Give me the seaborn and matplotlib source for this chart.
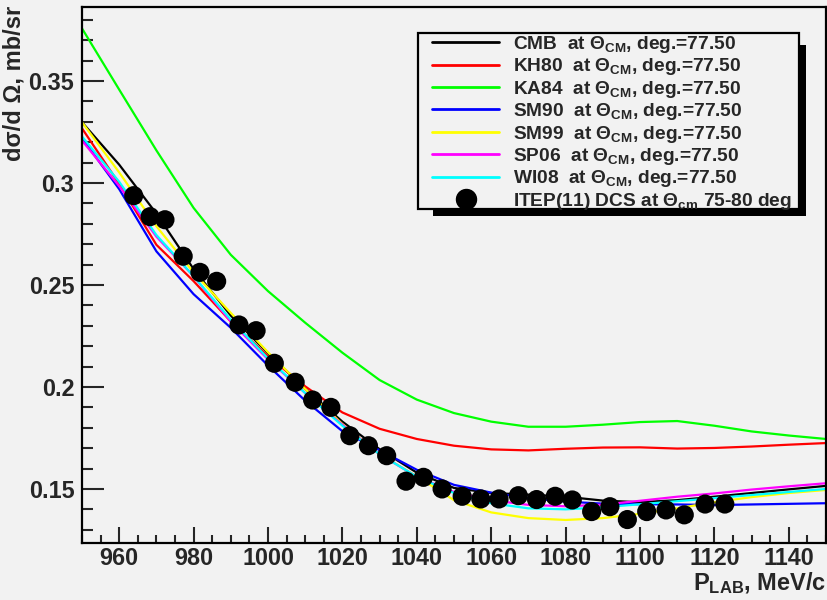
import numpy as np
import pandas as pd
import matplotlib
matplotlib.use("Agg")
import matplotlib.pyplot as plt
from matplotlib.lines import Line2D
from matplotlib.patches import Rectangle
from matplotlib.ticker import MultipleLocator, FuncFormatter
import seaborn as sns

# ---------------- data ----------------
p_grid = [950, 960, 970, 980, 990, 1000, 1010, 1020, 1030, 1040, 1050,
          1060, 1070, 1080, 1090, 1100, 1110, 1120, 1130, 1140, 1150]

cmb  = [0.3298, 0.3090, 0.2850, 0.2578, 0.2350, 0.2165, 0.1990, 0.1830, 0.1695, 0.1580, 0.1505,
        0.1480, 0.1472, 0.1462, 0.1443, 0.1435, 0.1445, 0.1462, 0.1480, 0.1498, 0.1515]
kh80 = [0.3268, 0.2996, 0.2697, 0.2519, 0.2321, 0.2150, 0.2003, 0.1875, 0.1795, 0.1745, 0.1712,
        0.1694, 0.1689, 0.1697, 0.1703, 0.1704, 0.1698, 0.1701, 0.1708, 0.1717, 0.1725]
ka84 = [0.3758, 0.3458, 0.3160, 0.2878, 0.2648, 0.2470, 0.2315, 0.2168, 0.2034, 0.1938, 0.1872,
        0.1830, 0.1805, 0.1805, 0.1815, 0.1828, 0.1833, 0.1810, 0.1782, 0.1762, 0.1745]
sm90 = [0.3220, 0.2970, 0.2665, 0.2455, 0.2290, 0.2105, 0.1933, 0.1783, 0.1690, 0.1594, 0.1520,
        0.1482, 0.1455, 0.1438, 0.1428, 0.1425, 0.1424, 0.1421, 0.1424, 0.1427, 0.1430]
sm99 = [0.3298, 0.3052, 0.2788, 0.2562, 0.2363, 0.2170, 0.1990, 0.1818, 0.1670, 0.1562, 0.1445,
        0.1385, 0.1357, 0.1348, 0.1357, 0.1378, 0.1405, 0.1435, 0.1460, 0.1480, 0.1495]
sp06 = [0.3208, 0.2985, 0.2737, 0.2543, 0.2320, 0.2135, 0.1970, 0.1815, 0.1670, 0.1560, 0.1485,
        0.1445, 0.1422, 0.1415, 0.1423, 0.1442, 0.1462, 0.1478, 0.1497, 0.1513, 0.1528]
wi08 = [0.3228, 0.3006, 0.2745, 0.2543, 0.2330, 0.2140, 0.1970, 0.1810, 0.1670, 0.1560, 0.1480,
        0.1430, 0.1405, 0.1400, 0.1410, 0.1425, 0.1440, 0.1455, 0.1470, 0.1485, 0.1500]

itep_p = [963.9, 968.3, 972.3, 977.2, 981.7, 986.2, 992.2, 996.8, 1001.7, 1007.3, 1012.0,
          1016.9, 1022.0, 1027.0, 1031.9, 1037.1, 1041.8, 1046.8, 1052.2, 1057.2, 1062.1,
          1067.3, 1072.2, 1077.2, 1081.8, 1087.0, 1091.9, 1096.6, 1101.8, 1107.0, 1111.9,
          1117.5, 1122.8]
itep_v = [0.2938, 0.2835, 0.2820, 0.2641, 0.2562, 0.2518, 0.2304, 0.2276, 0.2116, 0.2023, 0.1936,
          0.1900, 0.1761, 0.1712, 0.1663, 0.1538, 0.1557, 0.1500, 0.1464, 0.1451, 0.1451,
          0.1467, 0.1448, 0.1464, 0.1446, 0.1389, 0.1413, 0.1350, 0.1389, 0.1397, 0.1373,
          0.1426, 0.1426]

models = ["CMB", "KH80", "KA84", "SM90", "SM99", "SP06", "WI08"]
colors = ["#000000", "#ff0000", "#00ff00", "#0000ff", "#ffff00", "#ff00ff", "#00ffff"]
series = [cmb, kh80, ka84, sm90, sm99, sp06, wi08]

x_ticks = [960, 980, 1000, 1020, 1040, 1060, 1080, 1100, 1120, 1140]
y_ticks = [0.15, 0.2, 0.25, 0.3, 0.35]

# ---------------- style ----------------
sns.set_theme(style="ticks")
BG = "#f2f2f2"
plt.rcParams["font.family"] = ["Liberation Sans", "DejaVu Sans"]
plt.rcParams["font.weight"] = "bold"
plt.rcParams["mathtext.fontset"] = "custom"
plt.rcParams["mathtext.rm"] = "Liberation Sans:bold"
plt.rcParams["mathtext.it"] = "Liberation Sans:bold"
plt.rcParams["mathtext.bf"] = "Liberation Sans:bold"

W, H = 827, 600
fig = plt.figure(figsize=(8.27, 6.0), dpi=100, facecolor=BG)
AX_L, AX_R, AX_T, AX_B = 82, 826, 7, 543
ax = fig.add_axes([AX_L / W, 1 - AX_B / H, (AX_R - AX_L) / W, (AX_B - AX_T) / H])
ax.set_facecolor(BG)


def ax_xy(px, py):
    """pixel position (from top-left of figure) -> axes fraction"""
    return (px - AX_L) / (AX_R - AX_L), (AX_B - py) / (AX_B - AX_T)


df = pd.concat([pd.DataFrame({"P": p_grid, "dsig": s, "model": m})
                for m, s in zip(models, series)], ignore_index=True)

sns.lineplot(data=df, x="P", y="dsig", hue="model", hue_order=models,
             palette=dict(zip(models, colors)), linewidth=1.6, sort=False,
             estimator=None, legend=False, ax=ax)
sns.scatterplot(x=itep_p, y=itep_v, color="black", s=190, edgecolor="none",
                linewidth=0, legend=False, zorder=5, ax=ax)

ax.set_xlim(950, 1150)
ax.set_ylim(0.1235, 0.3863)

ax.set_xticks(x_ticks)
ax.set_yticks(y_ticks)
ax.xaxis.set_minor_locator(MultipleLocator(5))
ax.yaxis.set_minor_locator(MultipleLocator(0.01))
ax.yaxis.set_major_formatter(FuncFormatter(lambda v, pos: f"{v:g}"))
ax.xaxis.set_major_formatter(FuncFormatter(lambda v, pos: f"{v:g}"))

for s in ax.spines.values():
    s.set_linewidth(1.6)
    s.set_color("black")
    s.set_visible(True)

ax.tick_params(axis="x", which="major", direction="in", length=11.5, width=1.5,
               labelsize=16.8, pad=3, top=False)
ax.tick_params(axis="x", which="minor", direction="in", length=5.8, width=1.5, top=False)
ax.tick_params(axis="y", which="major", direction="in", length=15.8, width=1.5,
               labelsize=16.8, pad=5.5, right=False)
ax.tick_params(axis="y", which="minor", direction="in", length=7.9, width=1.5, right=False)
for lab in ax.get_xticklabels() + ax.get_yticklabels():
    lab.set_fontweight("bold")

ax.set_xlabel(r"P$_{\mathrm{LAB}}$, MeV/c", fontsize=17, fontweight="bold",
              ha="right", va="top")
ax.xaxis.set_label_coords(1.0, -0.050)
ax.set_ylabel("dσ/d Ω, mb/sr", fontsize=17, fontweight="bold", ha="right", va="bottom")
ax.yaxis.set_label_coords(-0.076, 1.002)

# ---------------- legend ----------------
# ROOT style box with drop shadow
bx0, by_top = ax_xy(418.3, 32.7)
bx1, by_bot = ax_xy(799.3, 209.3)
sx0, _ = ax_xy(433, 0)
_, sy_top = ax_xy(0, 45)
sx1, sy_bot = ax_xy(805.5, 215.5)
ax.add_patch(Rectangle((bx1, sy_bot), sx1 - bx1, sy_top - sy_bot, transform=ax.transAxes,
                       facecolor="black", edgecolor="none", zorder=8, clip_on=False))
ax.add_patch(Rectangle((sx0, sy_bot), sx1 - sx0, by_bot - sy_bot, transform=ax.transAxes,
                       facecolor="black", edgecolor="none", zorder=8, clip_on=False))
ax.add_patch(Rectangle((bx0, by_bot), bx1 - bx0, by_top - by_bot, transform=ax.transAxes,
                       facecolor=BG, edgecolor="black", linewidth=1.6, zorder=9,
                       clip_on=False))

handles = [Line2D([], [], color=c, lw=2.0) for c in colors]
handles.append(Line2D([], [], color="black", marker="o", ls="", markersize=14.4))
labels = [f"{m}  at Θ$_{{\\mathrm{{CM}}}}$, deg.=77.50" for m in models]
labels.append("ITEP(11) DCS at Θ$_{\\mathrm{cm}}$ 75-80 deg")

lx, ly = ax_xy(432, 33.8)
leg = ax.legend(handles, labels, loc="upper left", bbox_to_anchor=(lx, ly),
                borderaxespad=0, prop={"weight": "bold", "size": 13.8},
                frameon=False, handlelength=3.5, handletextpad=0.72,
                labelspacing=0.075, borderpad=0.0)
leg.set_zorder(10)

fig.savefig("out.png", dpi=100, facecolor=BG)
